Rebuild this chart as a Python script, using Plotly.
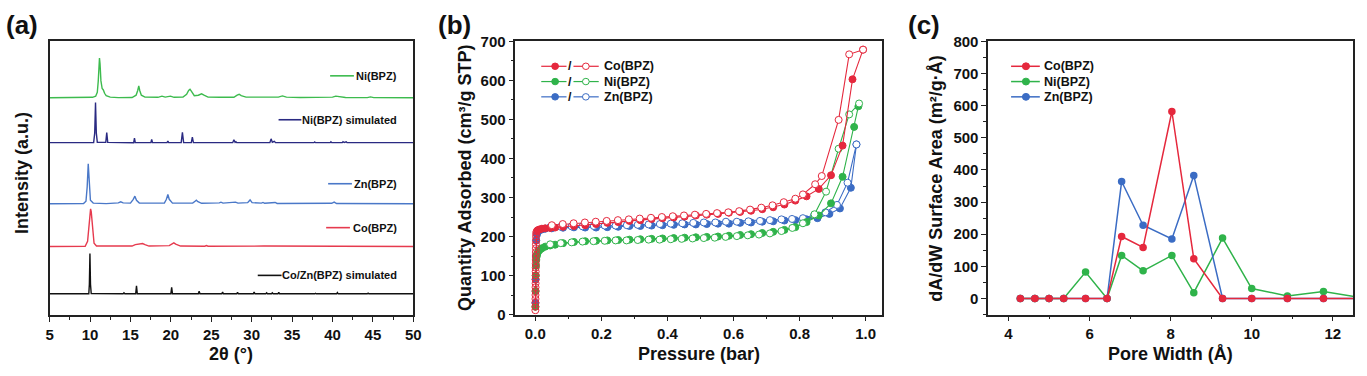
import plotly.graph_objects as go

# ---------------- (a) XRD patterns (2theta, intensity above own baseline, a.u.) ----------------
ni_x = [5.0, 9.5, 10.3, 10.7, 10.9, 11.02, 11.1, 11.17, 11.24, 11.35, 11.5, 11.65, 11.8, 12.0, 12.5, 13.5,
        15.2, 15.7, 15.9, 16.03, 16.15, 16.35, 16.8, 18.4, 18.9, 19.3, 19.95, 20.4, 21.5, 21.95, 22.2, 22.37,
        22.55, 22.9, 23.4, 23.8, 24.1, 24.6, 26.05, 27.8, 28.2, 28.45, 28.7, 29.3, 29.7, 32.5, 33.0, 33.3,
        33.8, 34.3, 36.0, 40.0, 40.4, 40.8, 41.2, 41.6, 44.3, 44.7, 45.1, 50.0]
ni_y = [0.3, 0.5, 0.8, 2, 6, 18, 34, 42, 36, 18, 10, 8.5, 5, 2.5, 1, 0.5,
        0.6, 3, 8, 12.7, 8, 3, 1, 0.8, 2, 1, 2, 0.8, 1, 4, 8, 9.3,
        7, 2.5, 3, 4.5, 3, 1, 0.8, 0.8, 3, 4, 2.5, 1, 1, 0.8, 1.5, 1,
        2.3, 1, 0.6, 1, 2, 1.5, 1.2, 0.6, 0.5, 1.2, 0.5, 0.3]

nisim_x = [5.0, 10.45, 10.58, 10.68, 10.78, 10.9, 11.95, 12.07, 12.19, 15.4, 15.5, 15.6, 17.53, 17.63, 17.73,
           19.53, 19.63, 19.73, 21.28, 21.43, 21.58, 22.53, 22.66, 22.79, 27.65, 27.8, 27.95, 28.05, 28.15,
           32.25, 32.4, 32.55, 32.8, 32.95, 37.7, 37.8, 37.9, 39.7, 39.8, 39.9, 41.2, 41.3, 41.45, 41.7, 41.8,
           46.4, 46.5, 46.6, 49.1, 49.2, 49.3, 50.0]
nisim_y = [0, 0, 10, 42, 10, 0.5, 0.3, 10.7, 0.3, 0, 4.7, 0, 0, 3.3, 0,
           0, 1.7, 0, 0, 10.7, 0, 0, 5.7, 0, 0, 3, 0.3, 1, 0,
           0, 4, 0.5, 1.5, 0, 0, 0.7, 0, 0, 1, 0, 0, 1, 0.2, 0.8, 0,
           0, 0.5, 0, 0, 0.6, 0, 0]

zn_x = [5.0, 9.2, 9.5, 9.65, 9.78, 9.9, 10.05, 10.4, 12.0, 13.5, 13.8, 14.1, 15.0, 15.35, 15.55, 15.75, 16.1,
        19.2, 19.45, 19.63, 19.8, 20.2, 22.7, 23.0, 23.15, 23.35, 23.8, 26.0, 26.2, 26.45, 27.8, 28.0, 28.3,
        29.5, 29.8, 30.05, 31.2, 31.4, 31.6, 32.7, 32.9, 33.15, 39.9, 40.2, 40.5, 50.0]
zn_y = [0.3, 0.5, 3, 18, 42.3, 20, 4, 1, 0.5, 1.2, 2.3, 1.2, 1, 5, 8.3, 4, 1,
        1, 5, 10, 5, 1, 1, 3, 4, 2.5, 0.8, 1.2, 2, 1, 1.2, 2, 1,
        1.5, 4.3, 1.5, 1, 1.7, 0.8, 1, 1.7, 0.6, 0.8, 2, 0.6, 0.3]

co_x = [5.0, 9.4, 9.7, 9.85, 10.0, 10.07, 10.15, 10.3, 10.5, 10.8, 12.1, 12.3, 12.6, 15.2, 15.6, 15.9, 16.2,
        16.5, 16.8, 17.3, 19.8, 20.2, 20.37, 20.6, 21.2, 24.2, 24.4, 24.6, 28.0, 29.9, 31.5, 50.0]
co_y = [0.5, 0.8, 6, 20, 38, 40, 37, 18, 4, 1, 0.8, 1.3, 0.8, 1, 2.5, 2.8, 3.5,
        3.7, 2.5, 1, 1.5, 3.5, 4.3, 3, 1, 0.8, 1.5, 0.8, 1, 1.6, 1, 0.6]

cozn_x = [5.0, 9.85, 9.92, 9.99, 10.06, 10.15, 14.1, 14.2, 14.3, 15.65, 15.75, 15.85, 20.0, 20.1, 20.2,
          22.4, 22.5, 22.6, 23.4, 23.5, 23.6, 26.3, 26.4, 26.5, 28.15, 28.25, 28.35, 30.2, 30.3, 30.4,
          31.75, 31.85, 31.95, 32.45, 32.55, 32.65, 33.25, 33.35, 33.45, 37.8, 37.9, 38.0, 40.5, 40.6, 40.7,
          44.3, 44.4, 44.5, 50.0]
cozn_y = [0, 0, 10, 42.3, 10, 0.3, 0, 1, 0, 0, 8.3, 0, 0, 6.7, 0,
          0, 0.7, 0, 0, 2.7, 0, 0, 2, 0, 0, 1.7, 0, 0, 2, 0,
          0, 1, 0, 0, 1, 0, 0, 1.7, 0, 0, 0.5, 0, 0, 1.3, 0,
          0, 0.7, 0, 0]

xrd_names = ["Ni(BPZ)", "Ni(BPZ) simulated", "Zn(BPZ)", "Co(BPZ)", "Co/Zn(BPZ) simulated"]
xrd_offsets = [227.7, 181.0, 116.7, 71.7, 22.7]

# ---------------- (b) N2 isotherms (pressure bar, quantity cm3/g STP) ----------------
co_ads_p = [0.0002, 0.0003, 0.0004, 0.0005, 0.0006, 0.0007, 0.0008, 0.0009, 0.001, 0.0011, 0.0012, 0.0013,
            0.0014, 0.0015, 0.0016, 0.0017, 0.0018, 0.0019, 0.002, 0.0022, 0.0025, 0.004, 0.007, 0.012, 0.02,
            0.03, 0.045, 0.06,
            0.084, 0.117, 0.151, 0.184, 0.218, 0.251, 0.285, 0.318, 0.352, 0.385, 0.419, 0.452, 0.486, 0.519,
            0.553, 0.586, 0.62, 0.653, 0.687, 0.72, 0.754, 0.787, 0.821, 0.858, 0.895, 0.93, 0.96, 0.992]
co_ads_q = [11, 20, 30, 40, 50, 60, 70, 80, 90, 100, 110, 120,
            130, 140, 150, 160, 170, 180, 190, 200, 208, 213, 216, 218, 220,
            221, 222, 223,
            225, 227, 229, 232, 235, 237, 240, 242, 245, 247, 249, 251, 254, 256,
            258, 261, 263, 266, 270, 275, 282, 292, 303, 322, 357, 433, 603, 679]
co_des_p = [0.992, 0.95, 0.918, 0.867, 0.847, 0.81, 0.787, 0.752, 0.718, 0.684, 0.65, 0.617, 0.584, 0.55,
            0.517, 0.483, 0.45, 0.416, 0.383, 0.35, 0.316, 0.283, 0.25, 0.216, 0.183, 0.15, 0.116, 0.083, 0.05]
co_des_q = [679, 667, 499, 355, 334, 308, 297, 288, 280, 274, 269, 265, 262, 260,
            258, 256, 254, 252, 250, 248, 246, 244, 242, 240, 238, 236, 234, 232, 229]

ni_ads_p = [0.0005, 0.001, 0.0015, 0.002, 0.003, 0.004, 0.005, 0.007, 0.01, 0.015, 0.02, 0.03, 0.045, 0.06,
            0.084, 0.117, 0.151, 0.184, 0.218, 0.251, 0.285, 0.318, 0.352, 0.385, 0.419, 0.452, 0.486, 0.519,
            0.553, 0.586, 0.62, 0.653, 0.687, 0.72, 0.754, 0.787, 0.821, 0.858, 0.895, 0.93, 0.965, 0.978]
ni_ads_q = [20, 60, 100, 125, 140, 148, 153, 158, 163, 167, 170, 174, 177, 179,
            183, 186, 188, 189, 190, 191, 192, 193, 194, 195, 196, 197, 198, 199,
            200, 202, 204, 206, 209, 212, 217, 224, 237, 254, 285, 353, 481, 534]
ni_des_p = [0.98, 0.95, 0.918, 0.88, 0.845, 0.81, 0.778, 0.745, 0.71, 0.677, 0.643, 0.61, 0.576, 0.543,
            0.51, 0.476, 0.443, 0.41, 0.376, 0.343, 0.31, 0.276, 0.243, 0.21, 0.176, 0.143, 0.11, 0.077, 0.045]
ni_des_q = [541, 513, 425, 315, 257, 234, 222, 214, 208, 205, 203, 201, 199, 197,
            196, 195, 194, 193, 192, 192, 191, 190, 190, 189, 188, 187, 185, 183, 180]

zn_ads_p = [0.0005, 0.001, 0.002, 0.003, 0.005, 0.008, 0.012, 0.02, 0.03, 0.05,
            0.084, 0.117, 0.151, 0.184, 0.218, 0.251, 0.285, 0.318, 0.352, 0.385, 0.419, 0.452, 0.486, 0.519,
            0.553, 0.586, 0.62, 0.653, 0.687, 0.72, 0.754, 0.787, 0.821, 0.854, 0.89, 0.922, 0.955, 0.972]
zn_ads_q = [30, 90, 150, 190, 205, 212, 216, 218, 220, 221,
            222.5, 223.5, 223, 223, 224, 225, 227, 227, 228, 229, 230, 231, 231, 232,
            233, 233, 235, 236, 238, 239, 241, 242, 244, 247, 258, 272, 325, 436]
zn_des_p = [0.972, 0.945, 0.913, 0.878, 0.844, 0.81, 0.777, 0.745, 0.71, 0.68, 0.645, 0.61, 0.577, 0.545,
            0.51, 0.478, 0.445, 0.41, 0.377, 0.343, 0.31, 0.277, 0.243, 0.21, 0.177, 0.143, 0.11, 0.077, 0.045]
zn_des_q = [436, 338, 281, 262, 255, 247, 245, 244, 242, 240, 239, 238, 238, 236,
            236, 235, 234, 233, 232, 231, 230, 229, 228, 228, 227, 226, 226, 225, 224]

# ---------------- (c) pore size distribution (pore width A, dA/dW m2/g/A) ----------------
pore_w = [4.29, 4.65, 5.0, 5.36, 5.9, 6.43, 6.79, 7.32, 8.03, 8.57, 9.28, 10.0, 10.88, 11.77, 12.8]
psd_co = [0, 0, 0, 0, 0, 0, 193, 159, 582, 124, 0, 0, 0, 0, 0]
psd_ni = [0, 0, 0, 0, 82, 0, 134, 86, 134, 18, 188, 31, 8, 22, 0]
psd_zn = [0, 0, 0, 0, 0, 0, 364, 228, 185, 383, 0, 0, 0, 0, 0]

# ---------------- styling ----------------
W, H = 1367, 376
FONT = "Liberation Sans, Arial, sans-serif"
RED, GREEN, BLUE = "#e5283d", "#2fb34a", "#3b6cc4"
XRD_COLORS = ["#3dbb4e", "#2a2a82", "#4a78c8", "#e63a4e", "#111111"]
AX = "#222222"


def PX(x):
    return x / W


def PY(y):
    return 1 - y / H


fig = go.Figure()

# (a)
xrd_x = [ni_x, nisim_x, zn_x, co_x, cozn_x]
xrd_y = [ni_y, nisim_y, zn_y, co_y, cozn_y]
for xs, ys, off, col, nm in zip(xrd_x, xrd_y, xrd_offsets, XRD_COLORS, xrd_names):
    fig.add_trace(go.Scatter(x=xs, y=[off + v for v in ys], mode="lines", name=nm,
                             line=dict(color=col, width=1.4), xaxis="x", yaxis="y", showlegend=False))

# (b)
iso = [
    (zn_ads_p, zn_ads_q, zn_des_p, zn_des_q, BLUE, "Zn(BPZ)", 0),
    (ni_ads_p, ni_ads_q, ni_des_p, ni_des_q, GREEN, "Ni(BPZ)", 0),
    (co_ads_p, co_ads_q, co_des_p, co_des_q, RED, "Co(BPZ)", 22),
]
for ap, aq, dp, dq, col, nm, n_open in iso:
    symbols = ["circle-open"] * n_open + ["circle"] * (len(ap) - n_open)
    fig.add_trace(go.Scatter(x=ap, y=aq, mode="lines+markers", name=nm + " ads",
                             line=dict(color=col, width=1.1),
                             marker=dict(symbol=symbols, size=7, color=col,
                                         line=dict(color=col, width=1)),
                             xaxis="x2", yaxis="y2", showlegend=False))
    fig.add_trace(go.Scatter(x=dp, y=dq, mode="lines+markers", name=nm + " des",
                             line=dict(color=col, width=1.1),
                             marker=dict(symbol="circle", size=7, color="white",
                                         line=dict(color=col, width=1)),
                             xaxis="x2", yaxis="y2", showlegend=False))

# (c)
for ys, col, nm in [(psd_ni, GREEN, "Ni(BPZ)"), (psd_zn, BLUE, "Zn(BPZ)"), (psd_co, RED, "Co(BPZ)")]:
    fig.add_trace(go.Scatter(x=pore_w, y=ys, mode="lines+markers", name=nm,
                             line=dict(color=col, width=1.5),
                             marker=dict(symbol="circle", size=7.5, color=col),
                             xaxis="x3", yaxis="y3", showlegend=False))

tickfont = dict(family=FONT, size=15, color="#111111", weight="bold")
common = dict(showline=True, linecolor=AX, linewidth=1.7, mirror=True, showgrid=False, zeroline=False,
              ticks="outside", ticklen=5, tickwidth=1.4, tickcolor=AX, tickfont=tickfont)
minor = lambda d: dict(ticks="outside", ticklen=3, tickwidth=1.2, tickcolor=AX, dtick=d)

fig.update_layout(
    width=W, height=H, margin=dict(l=0, r=0, t=0, b=0),
    plot_bgcolor="white", paper_bgcolor="white",
    xaxis=dict(common, domain=[PX(46), PX(413)], range=[5, 50], tick0=5, dtick=5, minor=minor(2.5), anchor="y"),
    yaxis=dict(common, domain=[PY(321), PY(34)], range=[0, 287], ticks="", showticklabels=False, anchor="x"),
    xaxis2=dict(common, domain=[PX(516), PX(886)], range=[-0.06, 1.05], tick0=0, dtick=0.2,
                tickformat=".1f", minor=minor(0.1), anchor="y2"),
    yaxis2=dict(common, domain=[PY(320), PY(34)], range=[0, 700], tick0=0, dtick=100, minor=minor(50),
                anchor="x2"),
    xaxis3=dict(common, domain=[PX(993), PX(1361)], range=[3.5, 12.5], tick0=0, dtick=2, minor=minor(1),
                anchor="y3"),
    yaxis3=dict(common, domain=[PY(320), PY(34)], range=[-50, 800], tick0=0, dtick=100, minor=minor(50),
                anchor="x3"),
)

ann = []
shapes = []


def text(x, y, s, size=12, xanchor="left", angle=0, color="#111111"):
    ann.append(dict(x=PX(x), y=PY(y), xref="paper", yref="paper", text=s, showarrow=False,
                    xanchor=xanchor, yanchor="middle", textangle=angle,
                    font=dict(family=FONT, size=size, color=color, weight="bold")))


# panel labels
text(0, 17, "(a)", size=26)
text(436, 17, "(b)", size=26)
text(910, 17, "(c)", size=26)

# axis titles
text(229.5, 361, "2θ (°)", size=18, xanchor="center")
text(701, 361, "Pressure (bar)", size=18, xanchor="center")
text(1177, 361, "Pore Width (Å)", size=18, xanchor="center")
text(18, 172, "Intensity (a.u.)", size=18, xanchor="center", angle=-90)
text(465, 177, "Quantity Adsorbed (cm³/g STP)", size=18, xanchor="center", angle=-90)
text(940, 178, "dA/dW Surface Area (m²/g·Å)", size=18, xanchor="center", angle=-90)

# (a) labels
a_leg = [(329, 353, 70), (277, 300, 116), (327, 351, 183), (325, 349, 229), (256, 280, 279)]
for (x0, x1, y), nm, col in zip(a_leg, xrd_names, XRD_COLORS):
    shapes.append(dict(type="line", xref="paper", yref="paper", x0=PX(x0), x1=PX(x1), y0=PY(y), y1=PY(y),
                       line=dict(color=col, width=1.6)))
    text(399, y, nm, size=11, xanchor="right")


def circle(cx, cy, r, fill, col):
    shapes.append(dict(type="circle", xref="paper", yref="paper", x0=PX(cx - r), x1=PX(cx + r),
                       y0=PY(cy + r), y1=PY(cy - r), fillcolor=fill, line=dict(color=col, width=1)))


# (b) legend
for (nm, col), y in zip([("Co(BPZ)", RED), ("Ni(BPZ)", GREEN), ("Zn(BPZ)", BLUE)], [60, 76, 92]):
    shapes.append(dict(type="line", xref="paper", yref="paper", x0=PX(542), x1=PX(567.5), y0=PY(y), y1=PY(y),
                       line=dict(color=col, width=1.2)))
    shapes.append(dict(type="line", xref="paper", yref="paper", x0=PX(574.5), x1=PX(600), y0=PY(y), y1=PY(y),
                       line=dict(color=col, width=1.2)))
    circle(556, y, 3.4, col, col)
    circle(587, y, 3.4, "white", col)
    text(571, y, "/", size=12.5, xanchor="center")
    text(603, y, nm, size=12.5)

# (c) legend
for nm, col, y in [("Co(BPZ)", RED, 60), ("Ni(BPZ)", GREEN, 76), ("Zn(BPZ)", BLUE, 92)]:
    shapes.append(dict(type="line", xref="paper", yref="paper", x0=PX(1016), x1=PX(1045), y0=PY(y), y1=PY(y),
                       line=dict(color=col, width=1.5)))
    circle(1031, y, 3.6, col, col)
    text(1047, y, nm, size=12.5)

fig.update_layout(annotations=ann, shapes=shapes)
fig.write_html("out.html", config={"displayModeBar": False},
               post_script="document.body.style.margin='0';document.body.style.overflow='hidden';")
